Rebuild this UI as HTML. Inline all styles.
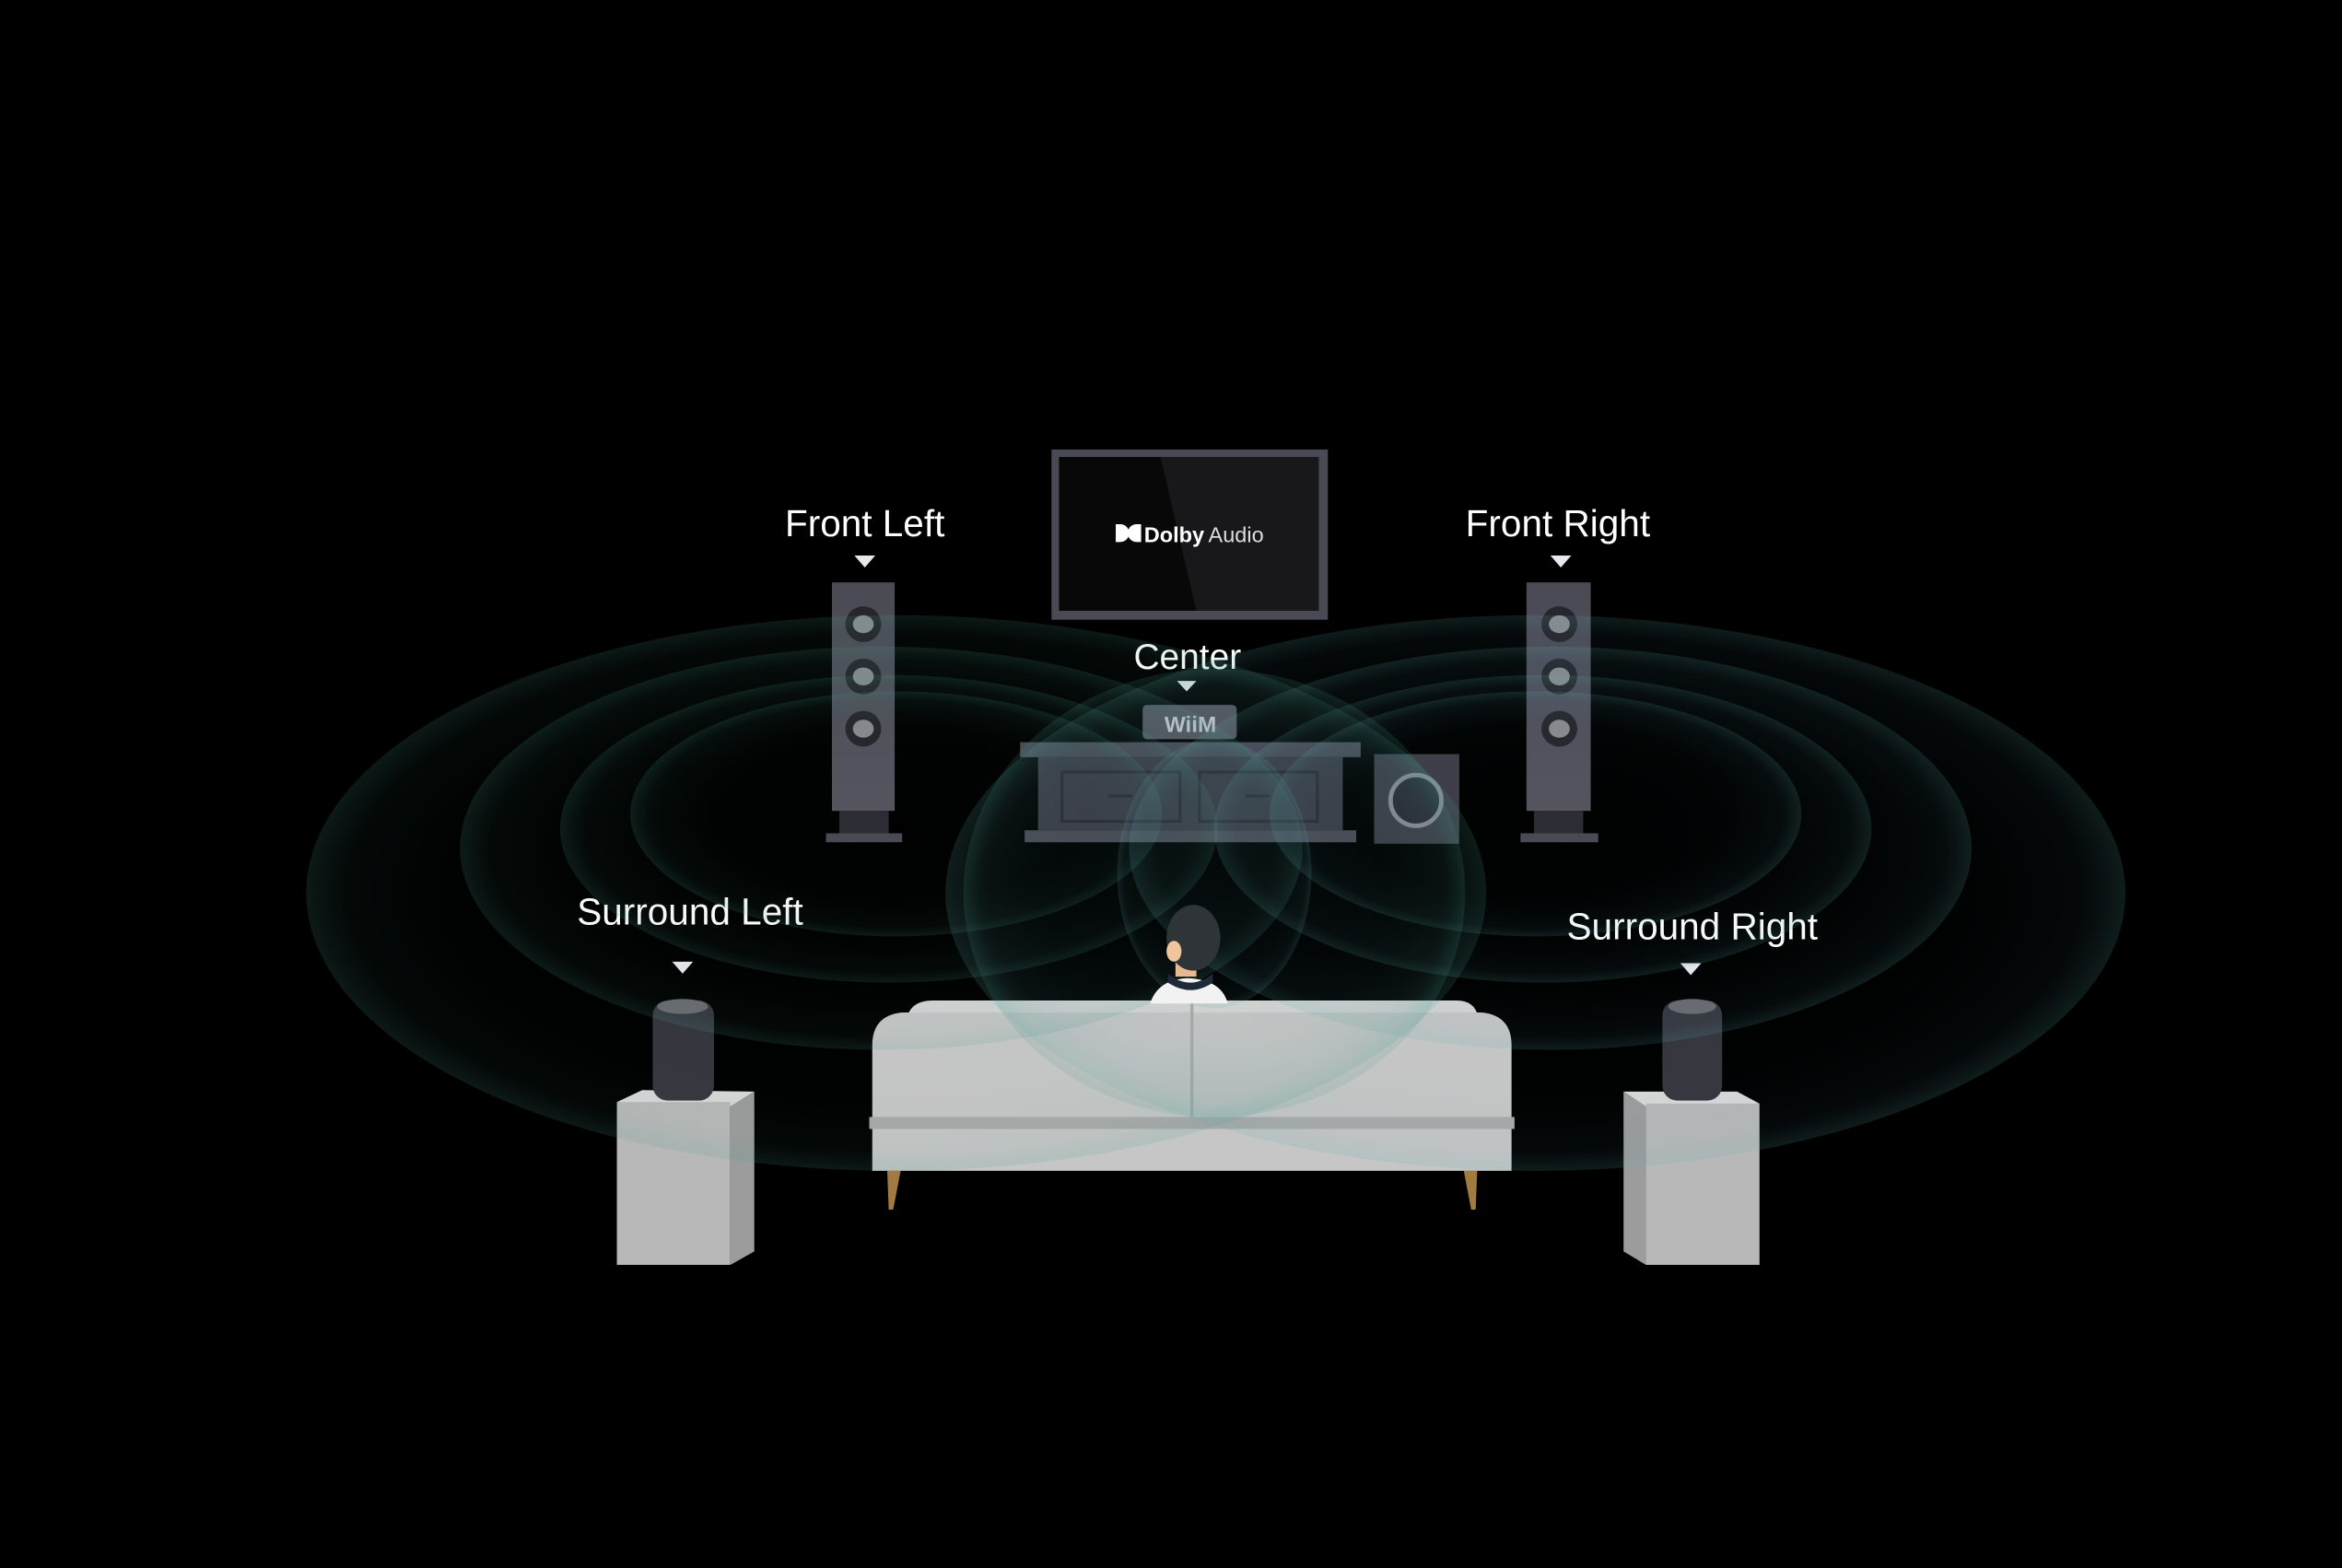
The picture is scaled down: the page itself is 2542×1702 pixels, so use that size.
<!DOCTYPE html>
<html><head><meta charset="utf-8"><style>
html,body{margin:0;padding:0;background:#000;}
svg{display:block;}
text{font-family:"Liberation Sans",sans-serif;}
</style></head><body>
<svg width="2542" height="1702" viewBox="0 0 1568 1050" preserveAspectRatio="none" xmlns="http://www.w3.org/2000/svg">
<defs>
<radialGradient id="rg" cx="0.5" cy="0.5" r="0.5">
<stop offset="0" stop-color="#2a6a5c" stop-opacity="0"/>
<stop offset="0.7" stop-color="#2a6a5c" stop-opacity="0.01"/>
<stop offset="0.93" stop-color="#3a8a78" stop-opacity="0.06"/>
<stop offset="1" stop-color="#4aa090" stop-opacity="0.16"/>
</radialGradient>
<radialGradient id="rgb" cx="0.5" cy="0.5" r="0.5">
<stop offset="0" stop-color="#3a7a8a" stop-opacity="0"/>
<stop offset="0.7" stop-color="#3a7a8a" stop-opacity="0.01"/>
<stop offset="0.93" stop-color="#4a90a0" stop-opacity="0.06"/>
<stop offset="1" stop-color="#60b0b0" stop-opacity="0.16"/>
</radialGradient>
<linearGradient id="spk" x1="0" y1="0" x2="0" y2="1">
<stop offset="0" stop-color="#4a4a54"/><stop offset="1" stop-color="#55545f"/>
</linearGradient>
</defs>
<rect width="1568" height="1050" fill="#000"/>

<!-- TV -->
<rect x="704" y="301" width="185" height="114" fill="#4a4a55"/>
<rect x="709" y="306" width="174" height="103" fill="#080808"/>
<polygon points="777,306 883,306 883,409 801,409" fill="#18181a"/>
<path d="M747,351 h3 a6,6 0 0 1 0,12 h-3 z" fill="#fff"/>
<path d="M764,351 h-3 a6,6 0 0 0 0,12 h3 z" fill="#fff"/>
<text x="766" y="363" font-size="14.5" fill="#fff" font-weight="bold">Dolby</text>
<text x="809" y="363" font-size="14.5" fill="#ddd">Audio</text>

<!-- Center label -->
<text x="795" y="448" font-size="24" fill="#fff" text-anchor="middle">Center</text>
<polygon points="788,456 801,456 794.5,463" fill="#e8e8ee"/>
<rect x="765" y="472" width="63" height="23" rx="3" fill="#55555f"/>
<text x="797" y="490" font-size="15" fill="#c8c8d0" font-weight="bold" text-anchor="middle">WiiM</text>

<!-- Cabinet -->
<rect x="683" y="497" width="228" height="10" fill="#4a4a55"/>
<rect x="695" y="507" width="204" height="49" fill="#3c3c46"/>
<rect x="686" y="556" width="222" height="8" fill="#4a4a55"/>
<rect x="711" y="517" width="79" height="33" fill="none" stroke="#2c2c34" stroke-width="2"/>
<rect x="803" y="517" width="79" height="33" fill="none" stroke="#2c2c34" stroke-width="2"/>
<line x1="742" y1="533" x2="758" y2="533" stroke="#2c2c34" stroke-width="2"/>
<line x1="834" y1="533" x2="850" y2="533" stroke="#2c2c34" stroke-width="2"/>
<rect x="920" y="505" width="57" height="60" fill="#3d3d47"/>
<circle cx="948" cy="536" r="17" fill="#2a2a32" stroke="#8a8a95" stroke-width="3"/>

<!-- Front Left -->
<text x="579" y="359" font-size="25" fill="#fff" text-anchor="middle">Front Left</text>
<polygon points="572,372 586,372 579,380" fill="#e8e8ee"/>
<rect x="557" y="390" width="42" height="153" fill="url(#spk)"/>
<rect x="562" y="543" width="33" height="15" fill="#2c2c34"/>
<rect x="553" y="558" width="51" height="6" fill="#4a4a55"/>
<g fill="#26262c"><circle cx="578" cy="418" r="12"/><circle cx="578" cy="453" r="12"/><circle cx="578" cy="488" r="12"/></g>
<g fill="#8a8a8e"><ellipse cx="578" cy="418" rx="7" ry="6"/><ellipse cx="578" cy="453" rx="7" ry="6"/><ellipse cx="578" cy="488" rx="7" ry="6"/></g>

<!-- Front Right -->
<text x="1043" y="359" font-size="25" fill="#fff" text-anchor="middle">Front Right</text>
<polygon points="1038,372 1052,372 1045,380" fill="#e8e8ee"/>
<rect x="1022" y="390" width="43" height="153" fill="url(#spk)"/>
<rect x="1027" y="543" width="33" height="15" fill="#2c2c34"/>
<rect x="1018" y="558" width="52" height="6" fill="#4a4a55"/>
<g fill="#26262c"><circle cx="1044" cy="418" r="12"/><circle cx="1044" cy="453" r="12"/><circle cx="1044" cy="488" r="12"/></g>
<g fill="#8a8a8e"><ellipse cx="1044" cy="418" rx="7" ry="6"/><ellipse cx="1044" cy="453" rx="7" ry="6"/><ellipse cx="1044" cy="488" rx="7" ry="6"/></g>

<!-- Sofa -->
<path d="M607,686 Q607,670 625,670 L975,670 Q990,670 990,686 Z" fill="#d4d4d4"/>
<path d="M584,700 Q584,680 604,678 L992,678 Q1012,680 1012,700 L1012,784 L584,784 Z" fill="#c6c6c6"/>
<line x1="798" y1="672" x2="798" y2="748" stroke="#aaa" stroke-width="2"/>
<rect x="582" y="748" width="432" height="8" fill="#a9a9a9"/>
<polygon points="594,784 603,784 598,810 595,810" fill="#a07a40"/>
<polygon points="980,784 989,784 988,810 985,810" fill="#a07a40"/>

<!-- Surround Left -->
<text x="462" y="619" font-size="25" fill="#fff" text-anchor="middle">Surround Left</text>
<polygon points="450,644 464,644 457,652" fill="#e8e8ee"/>
<polygon points="413,738 430,730 505,731 489,741" fill="#d8d8d8"/>
<rect x="413" y="738" width="76" height="109" fill="#b8b8b8"/>
<polygon points="489,741 505,731 505,838 489,847" fill="#9c9c9c"/>
<rect x="437" y="670" width="41" height="67" rx="10" fill="#36363e"/>
<ellipse cx="457" cy="674" rx="17" ry="5" fill="#6a6a70"/>

<!-- Surround Right -->
<text x="1133" y="629" font-size="25" fill="#fff" text-anchor="middle">Surround Right</text>
<polygon points="1125,645 1139,645 1132,653" fill="#e8e8ee"/>
<polygon points="1087,731 1163,731 1178,739 1102,741" fill="#d8d8d8"/>
<rect x="1102" y="739" width="76" height="108" fill="#b8b8b8"/>
<polygon points="1087,731 1102,741 1102,847 1087,838" fill="#9c9c9c"/>
<rect x="1113" y="670" width="40" height="67" rx="10" fill="#36363e"/>
<ellipse cx="1133" cy="674" rx="16" ry="5" fill="#6a6a70"/>

<!-- Waves -->
<g>
<ellipse cx="600" cy="598" rx="395" ry="186" fill="url(#rg)"/>
<ellipse cx="590" cy="568" rx="282" ry="135" fill="url(#rg)"/>
<ellipse cx="595" cy="555" rx="220" ry="103" fill="url(#rg)"/>
<ellipse cx="600" cy="545" rx="178" ry="82" fill="url(#rg)"/>
<ellipse cx="1028" cy="598" rx="395" ry="186" fill="url(#rgb)"/>
<ellipse cx="1038" cy="568" rx="282" ry="135" fill="url(#rgb)"/>
<ellipse cx="1033" cy="555" rx="220" ry="103" fill="url(#rgb)"/>
<ellipse cx="1028" cy="545" rx="178" ry="82" fill="url(#rgb)"/>
<ellipse cx="813" cy="598" rx="168" ry="150" fill="url(#rg)"/>
<ellipse cx="813" cy="585" rx="65" ry="90" fill="url(#rgb)"/>
</g>

<!-- Person (on top) -->
<path d="M770,672 Q775,656 795,655 Q818,656 822,672 Z" fill="#f2f2f2"/>
<path d="M782,652 Q797,664 812,652 L812,658 Q797,668 782,658 Z" fill="#1e2a3a"/>
<rect x="787" y="640" width="14" height="14" fill="#e8b890"/>
<ellipse cx="799" cy="628" rx="18" ry="22" fill="#2f3438"/>
<ellipse cx="786" cy="637" rx="5" ry="7" fill="#f0c49c"/>
</svg>
</body></html>
